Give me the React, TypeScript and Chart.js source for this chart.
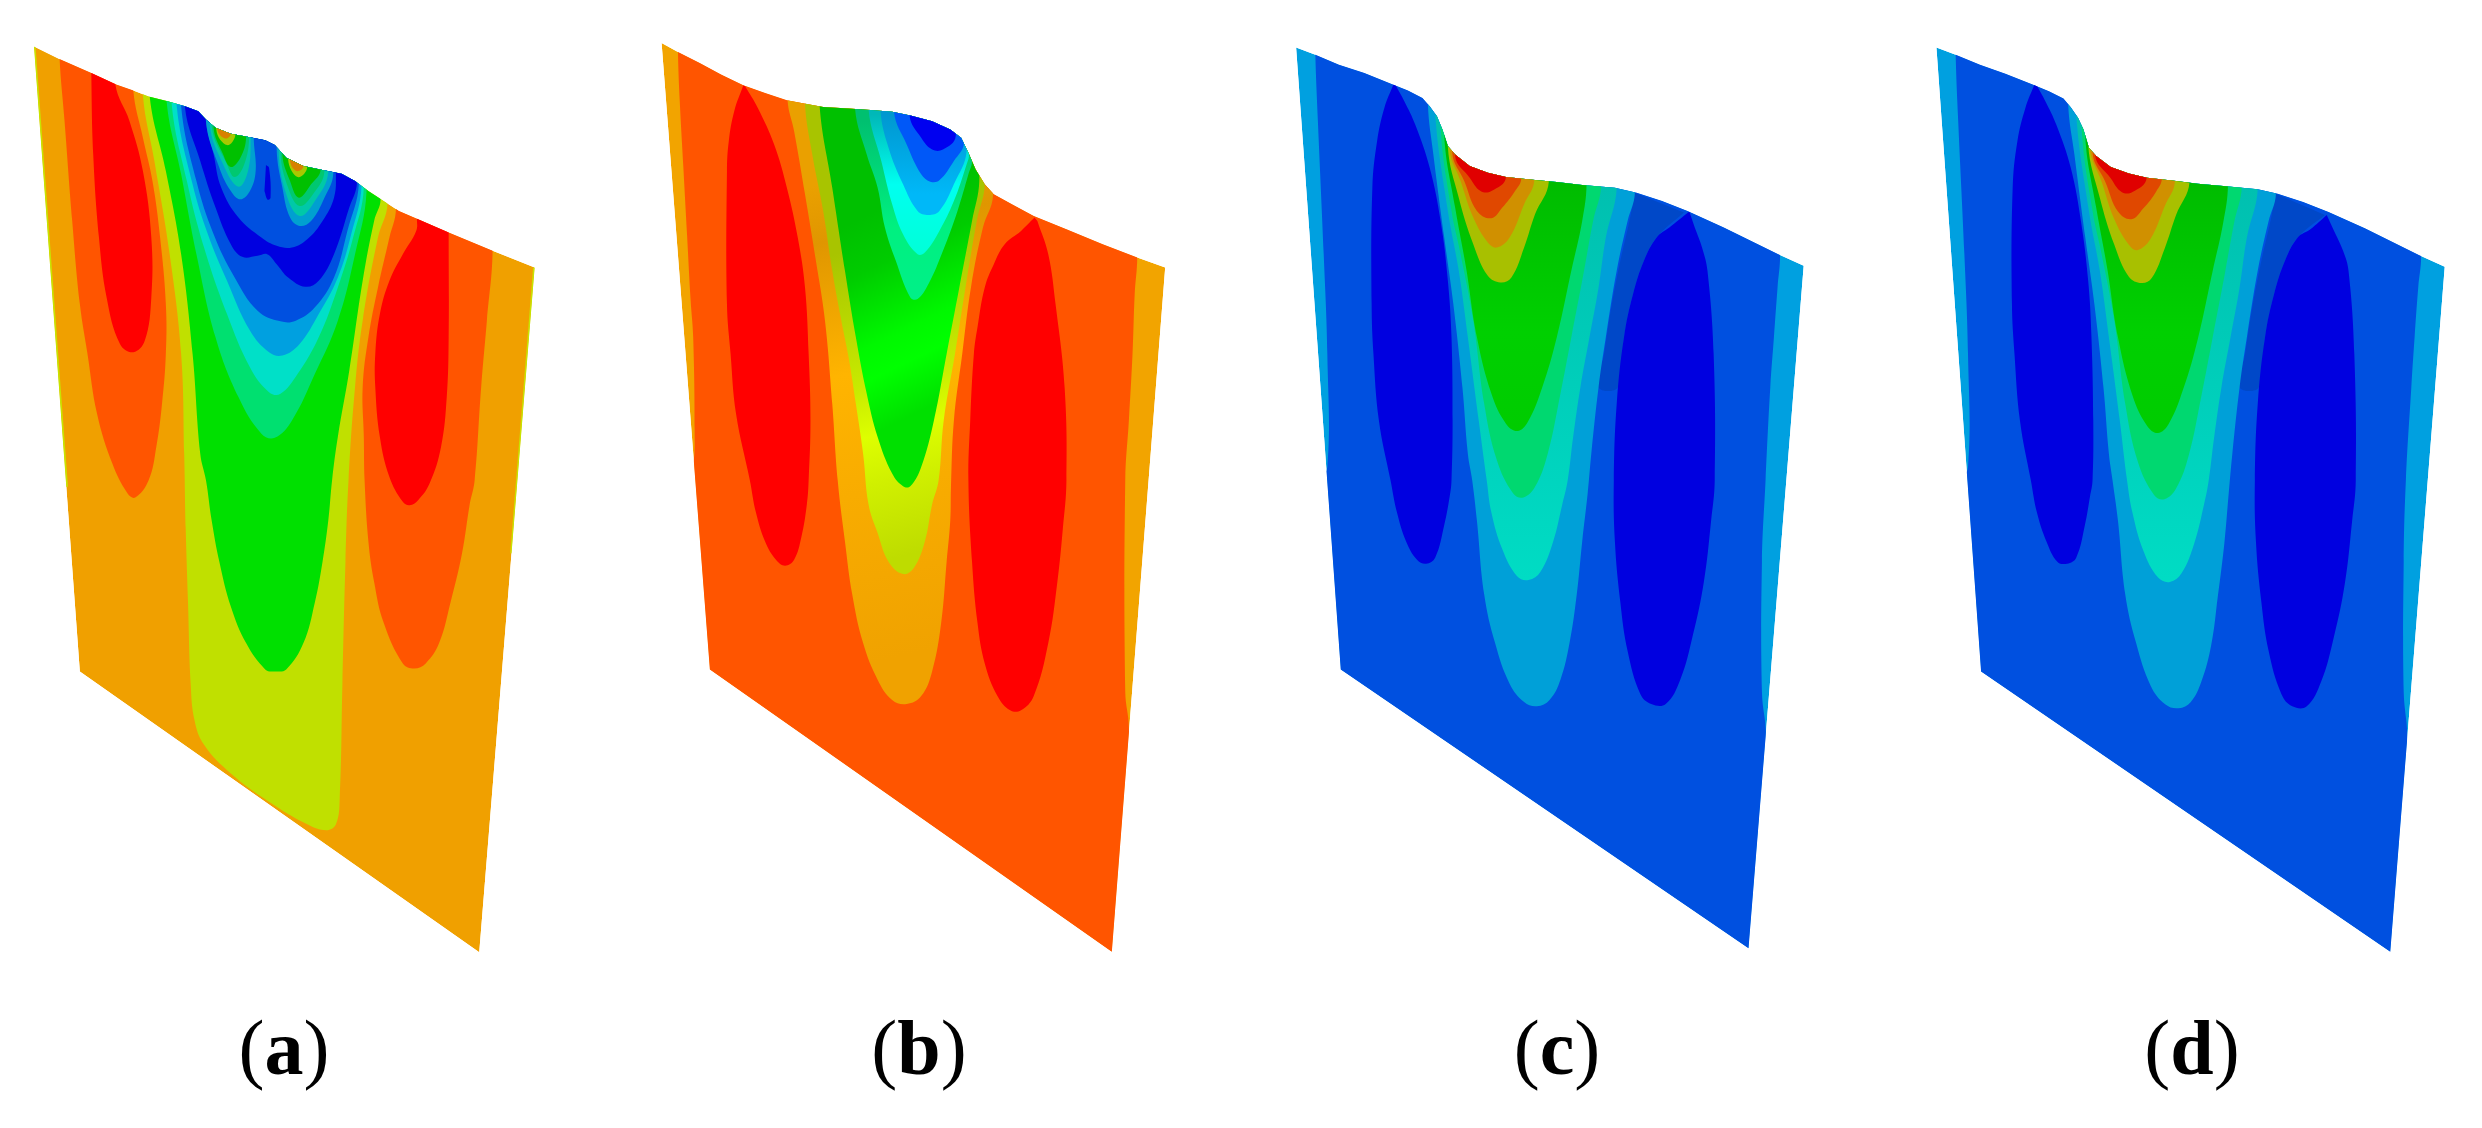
import React, { useEffect, useRef } from "react";
import { Chart, registerables } from "chart.js";

type P = number[][];
type Shade = { from: number[]; to: number[]; stops: [number, string][] };
type Row = [P, string, string?, Shade?];

const panelLabels = ["a", "b", "c", "d"];
const labelCentres = [284, 919, 1557, 2192];

// ---------- panel (a) ----------
const aOutline: P = [[85,75],[150,112],[235,155],[300,190],[345,208],[385,226],[435,240],[480,255],[515,270],[535,295],[560,320],[600,338],[650,348],[690,357],[715,372],[745,410],[790,435],[840,447],[890,458],[925,480],[960,510],[1000,540],[1040,570],[1090,595],[1170,635],[1285,690],[1395,740],[1250,2800],[205,1955]];
const aEdgeL: P = [[85,75],[170,1400]];
const aEdgeR: P = [[1395,740],[1335,1600]];
const aLobeL1: P = [[152,0],[152,112],[165,300],[185,600],[205,850],[225,1000],[250,1180],[290,1330],[330,1420],[350,1432],[385,1380],[405,1280],[420,1150],[430,1000],[430,850],[415,650],[395,480],[370,350],[345,208],[345,0]];
const aLobeL2: P = [[235,0],[235,155],[240,400],[255,650],[275,830],[310,970],[345,995],[375,960],[392,830],[392,650],[370,450],[335,300],[298,190],[298,0]];
const aLobeR1: P = [[1032,0],[1032,565],[1015,650],[985,800],[960,950],[945,1100],[948,1250],[950,1380],[960,1564],[975,1686],[1000,1809],[1050,1931],[1080,1946],[1110,1931],[1145,1870],[1175,1747],[1205,1600],[1225,1453],[1238,1380],[1255,1100],[1270,900],[1285,690],[1285,0]];
const aLobeR2: P = [[1087,0],[1087,595],[1085,630],[1050,700],[1015,780],[990,880],[978,1000],[978,1100],[990,1250],[1015,1370],[1050,1445],[1068,1455],[1090,1440],[1120,1390],[1150,1280],[1165,1130],[1170,950],[1170,635],[1170,0]];
const aLime: P = [[370,0],[370,222],[400,420],[440,700],[470,1000],[478,1300],[482,1527],[488,1747],[495,1992],[505,2102],[530,2176],[600,2262],[700,2347],[800,2415],[850,2433],[875,2415],[885,2335],[892,1992],[900,1625],[908,1380],[925,1100],[945,900],[985,650],[1010,548],[1010,0]];
const aGreen: P = [[388,0],[388,228],[430,450],[470,700],[500,1000],[520,1300],[535,1380],[550,1502],[570,1625],[600,1760],[640,1870],[690,1949],[715,1955],[745,1949],[790,1870],[820,1747],[840,1625],[855,1502],[865,1380],[880,1250],[910,1050],[945,780],[975,600],[992,535],[992,0]];
const aSea: P = [[432,0],[432,240],[470,460],[510,700],[560,950],[620,1130],[680,1240],[715,1252],[760,1200],[820,1060],[880,900],[925,700],[955,512],[955,0]];
const aCyan: P = [[445,0],[445,245],[485,480],[530,680],[590,880],[650,1040],[700,1115],[730,1120],[775,1060],[830,950],[880,800],[920,650],[948,500],[948,0]];
const aSky: P = [[458,0],[458,250],[500,490],[540,640],[590,780],[650,930],[700,995],[735,1005],[780,970],[830,880],[880,770],[915,640],[942,495],[942,0]];
const aBlue: P = [[470,0],[470,255],[510,480],[555,640],[610,770],[670,870],[730,902],[770,900],[820,860],[870,770],[905,630],[935,488],[935,0]];
const aDeep: P = [[480,0],[480,258],[520,420],[560,560],[600,670],[630,708],[670,705],[695,700],[720,730],[750,770],[795,798],[830,780],[870,700],[910,560],[930,485],[930,0]];
const aInner: P = [[535,0],[535,295],[555,400],[575,500],[620,590],[680,650],[720,675],[760,680],[800,655],[840,600],[870,530],[875,458],[875,0]];
const aSliver: P = [[692,432],[700,440],[704,530],[696,536],[688,510]];
const aPitL1: P = [[535,0],[535,300],[570,440],[600,510],[625,535],[650,510],[665,450],[660,350],[660,0]];
const aPitL2: P = [[545,0],[545,310],[580,430],[620,497],[645,450],[652,350],[652,0]];
const aPitL3: P = [[550,0],[550,315],[590,430],[610,468],[635,430],[648,348],[648,0]];
const aPitL4: P = [[555,0],[555,320],[580,400],[600,438],[625,410],[640,348],[640,0]];
const aPitL5: P = [[562,0],[562,325],[590,372],[612,340],[612,0]];
const aPitL6: P = [[565,0],[565,325],[585,352],[600,338],[600,0]];
const aPitR1: P = [[720,0],[720,385],[735,500],[755,590],[780,615],[810,600],[845,530],[868,458],[868,0]];
const aPitR2: P = [[725,0],[725,390],[745,520],[780,585],[820,540],[855,452],[855,0]];
const aPitR3: P = [[730,0],[730,395],[750,500],[780,555],[815,520],[845,450],[845,0]];
const aPitR4: P = [[735,0],[735,400],[755,480],[778,530],[810,490],[835,445],[835,0]];
const aPitR5: P = [[750,0],[750,415],[775,468],[800,438],[800,0]];
const aPitR6: P = [[755,0],[755,418],[772,450],[790,435],[790,0]];

// ---------- panel (b) ----------
const bOutline: P = [[85,65],[130,92],[190,125],[250,160],[310,192],[370,215],[430,237],[485,248],[530,257],[600,262],[660,266],[720,272],[770,283],[830,300],[880,325],[910,350],[930,395],[950,445],[975,490],[1000,520],[1050,550],[1110,585],[1200,625],[1300,670],[1395,710],[1472,740],[1325,2798],[218,1949]];
const bMain: P = [[130,0],[130,92],[135,240],[145,440],[155,640],[165,840],[172,950],[176,1230],[172,1330],[150,1400],[150,2000],[400,2900],[1372,2900],[1372,2125],[1362,2017],[1362,1380],[1372,1200],[1382,1000],[1388,820],[1395,710],[1395,0]];
const bLobeL: P = [[310,192],[285,270],[270,360],[265,450],[265,850],[275,1000],[290,1180],[328,1380],[345,1478],[370,1564],[400,1619],[425,1637],[450,1619],[470,1551],[485,1453],[490,1380],[495,1200],[490,1000],[480,800],[460,650],[430,500],[395,370],[350,260],[315,195]];
const bLobeR: P = [[1112,590],[1075,630],[1030,670],[1000,730],[975,800],[955,920],[945,1000],[935,1200],[930,1380],[940,1625],[955,1809],[975,1931],[1010,2029],[1045,2072],[1075,2072],[1110,2029],[1150,1870],[1175,1686],[1190,1527],[1200,1380],[1195,1100],[1170,850],[1150,700],[1120,600]];
const bAmber: P = [[432,0],[432,237],[450,330],[480,520],[510,720],[535,900],[555,1150],[570,1380],[590,1564],[610,1723],[640,1870],[680,1980],[720,2041],[760,2053],[800,2029],[830,1955],[855,1809],[870,1625],[880,1502],[882,1400],[890,1200],[913,1000],[937,800],[970,620],[998,522],[998,0]];
const bLime: P = [[480,0],[480,248],[500,400],[530,570],[555,750],[580,900],[600,1010],[620,1150],[640,1300],[655,1453],[680,1539],[710,1625],[750,1662],[780,1643],[810,1564],[830,1453],[848,1380],[862,1200],[893,1000],[922,800],[953,600],[975,490],[975,0]];
const bGreen: P = [[520,0],[520,252],[555,500],[590,750],[620,950],[650,1120],[680,1250],[720,1360],[750,1398],[770,1398],[800,1340],[835,1200],[870,1000],[905,800],[940,600],[960,480],[960,0]];
const bSea: P = [[618,0],[618,264],[650,400],[680,500],[700,620],[730,720],[770,830],[790,835],[820,790],[860,690],[900,570],[930,460],[940,420],[940,0]];
const bTeal: P = [[655,0],[655,265],[690,420],[720,550],[750,640],[790,700],[810,695],[850,630],[890,540],[925,430],[932,400],[932,0]];
const bSky: P = [[688,0],[688,268],[710,380],[750,490],[790,570],[820,582],[850,570],[890,490],[925,390],[925,0]];
const bBlue: P = [[725,0],[725,272],[760,370],[800,460],[825,482],[850,478],[890,420],[918,365],[918,0]];
const bDeep: P = [[768,0],[768,283],[800,350],[830,385],[860,385],[895,345],[895,0]];

const bAmberShade: Shade = { from: [480,500], to: [780,1900], stops: [[0,"#EAA000"],[0.12,"#E09600"],[0.4,"#FFB400"],[0.65,"#F8AC00"],[1,"#F0A200"]] };
const bLimeShade: Shade = { from: [560,700], to: [780,1600], stops: [[0,"#A8C400"],[0.45,"#C8EC00"],[0.6,"#DDFF00"],[0.75,"#D0F000"],[1,"#BEDC00"]] };
const bGreenShade: Shade = { from: [580,620], to: [820,1160], stops: [[0,"#00C000"],[0.25,"#00CC00"],[0.6,"#00F800"],[0.75,"#00FF00"],[1,"#00E000"]] };
const bSeaShade: Shade = { from: [700,300], to: [700,830], stops: [[0,"#00C070"],[0.6,"#00F080"],[1,"#00F088"]] };
const bTealShade: Shade = { from: [700,280], to: [700,700], stops: [[0,"#00B8B8"],[0.5,"#00FFF0"],[1,"#00FFD8"]] };
const bSkyShade: Shade = { from: [700,280], to: [700,520], stops: [[0,"#0098D0"],[1,"#00B8F8"]] };

// ---------- panel (c) ----------
const cOutline: P = [[72,78],[125,100],[190,130],[260,155],[335,188],[380,208],[420,230],[440,255],[460,285],[475,325],[490,375],[510,400],[550,435],[600,455],[650,468],[730,477],[790,483],[860,492],[950,500],[1010,515],[1080,540],[1150,570],[1250,620],[1400,700],[1470,735],[1318,2788],[195,1949]];
const cMain: P = [[125,0],[125,100],[132,300],[148,700],[158,1000],[158,1340],[130,1400],[130,2000],[400,2900],[1366,2900],[1366,2145],[1355,2017],[1355,1625],[1365,1380],[1378,1100],[1388,950],[1398,800],[1405,705],[1405,0]];
const cLobeL: P = [[340,190],[315,260],[295,360],[282,500],[280,850],[285,1000],[300,1200],[332,1380],[350,1478],[375,1564],[405,1619],[430,1631],[455,1613],[480,1515],[495,1429],[500,1380],[503,1200],[500,950],[490,780],[470,600],[440,440],[400,310],[370,240],[345,190]];
const cShadeBand: P = [[1005,515],[990,600],[965,720],[940,860],[920,1000],[905,1100],[958,1100],[975,950],[1000,820],[1030,720],[1065,650],[1140,575]];
const cLobeR: P = [[1155,572],[1100,620],[1065,650],[1030,720],[1000,820],[975,950],[955,1150],[947,1380],[950,1564],[965,1747],[985,1894],[1020,2023],[1050,2053],[1090,2053],[1130,1980],[1165,1845],[1195,1686],[1215,1502],[1225,1380],[1222,1000],[1205,750],[1190,680],[1170,620]];
const cSky: P = [[435,0],[435,250],[450,400],[480,650],[505,850],[530,1100],[545,1300],[557,1380],[570,1502],[590,1723],[620,1870],[660,1992],[700,2047],[735,2060],[770,2041],[800,1980],[825,1870],[845,1723],[860,1564],[875,1420],[885,1300],[905,1100],[925,950],[955,750],[985,600],[1005,515],[1005,0]];
const cTeal: P = [[455,0],[455,275],[490,570],[520,750],[545,950],[575,1200],[597,1380],[610,1478],[640,1588],[680,1668],[712,1680],[745,1655],[780,1564],[805,1453],[820,1380],[835,1250],[855,1100],[880,950],[905,800],[925,650],[955,500],[955,0]];
const cSea: P = [[470,0],[470,320],[500,570],[525,700],[560,900],[590,1150],[625,1320],[670,1420],[698,1432],[730,1400],[765,1300],[800,1120],[830,950],[865,750],[890,600],[912,495],[912,0]];
const cGreen: P = [[480,0],[480,345],[510,560],[540,740],[570,950],[610,1120],[650,1210],[682,1232],[710,1205],[750,1100],[790,950],[830,750],[860,600],[872,490],[872,0]];
const cOlive: P = [[490,0],[490,378],[520,530],[560,670],[600,765],[635,785],[665,770],[700,680],[730,580],[768,482],[768,0]];
const cOchre: P = [[495,0],[495,385],[525,480],[560,590],[600,665],[625,680],[660,650],[700,550],[728,477],[728,0]];
const cRust: P = [[502,0],[502,395],[535,480],[570,570],[610,592],[640,560],[675,510],[692,473],[692,0]];
const cRed: P = [[510,0],[510,405],[550,470],[580,510],[610,510],[650,468],[650,0]];

const cdGreenShade: Shade = { from: [700,490], to: [700,1230], stops: [[0,"#00BC00"],[0.6,"#00D000"],[1,"#00CC00"]] };
const cdTealShade: Shade = { from: [800,500], to: [800,1680], stops: [[0,"#00C0B0"],[1,"#00DCC4"]] };

// ---------- panel (d) ----------
const dOutline: P = [[75,78],[128,100],[195,130],[265,157],[340,190],[385,210],[425,232],[445,258],[465,290],[480,325],[495,380],[515,405],[555,438],[605,457],[655,470],[735,480],[795,488],[865,495],[960,505],[1015,518],[1085,543],[1155,573],[1255,622],[1405,703],[1475,738],[1325,2798],[198,1955]];
const dMain: P = [[128,0],[128,100],[135,300],[152,700],[162,1000],[162,1340],[135,1400],[135,2000],[400,2900],[1372,2900],[1372,2152],[1362,2017],[1362,1625],[1368,1380],[1383,1100],[1392,950],[1402,800],[1410,708],[1410,0]];
const dLobeL: P = [[345,190],[320,260],[298,360],[285,500],[283,850],[290,1000],[305,1200],[335,1380],[352,1478],[378,1564],[408,1625],[435,1631],[460,1613],[484,1515],[498,1429],[505,1380],[507,1200],[502,950],[493,780],[473,600],[445,440],[405,310],[375,240],[350,190]];
const dShadeBand: P = [[1010,518],[995,600],[970,720],[945,860],[925,1000],[910,1100],[963,1100],[980,950],[1005,820],[1035,720],[1070,650],[1145,582]];
const dLobeR: P = [[1150,582],[1105,625],[1070,650],[1035,720],[1005,820],[980,950],[960,1150],[952,1380],[955,1564],[970,1747],[990,1894],[1025,2023],[1055,2060],[1095,2060],[1135,1985],[1170,1850],[1200,1690],[1220,1502],[1230,1380],[1226,1000],[1210,750],[1195,690],[1168,625]];
const dSky: P = [[438,0],[438,252],[455,400],[485,650],[510,850],[535,1100],[550,1300],[560,1380],[575,1502],[595,1723],[625,1870],[665,1998],[705,2054],[742,2066],[775,2048],[805,1985],[832,1875],[850,1730],[868,1570],[880,1420],[890,1300],[910,1100],[930,950],[960,750],[990,600],[1010,518],[1010,0]];
const dTeal: P = [[460,0],[460,278],[495,570],[525,750],[550,950],[580,1200],[600,1380],[615,1478],[645,1592],[685,1672],[718,1686],[750,1660],[785,1570],[812,1453],[825,1380],[840,1250],[860,1100],[885,950],[910,800],[930,650],[960,503],[960,0]];
const dSea: P = [[475,0],[475,322],[505,570],[530,700],[565,900],[595,1150],[630,1325],[675,1425],[703,1437],[735,1405],[770,1305],[805,1125],[835,955],[870,755],[895,605],[916,497],[916,0]];
const dGreen: P = [[485,0],[485,348],[515,560],[545,740],[575,950],[615,1125],[655,1216],[685,1238],[715,1210],[755,1105],[795,955],[835,755],[865,605],[878,493],[878,0]];
const dOlive: P = [[493,0],[493,370],[525,530],[565,672],[605,768],[640,787],[668,772],[704,682],[735,582],[772,484],[772,0]];
const dOchre: P = [[498,0],[498,382],[530,482],[565,595],[605,672],[628,688],[664,655],[704,555],[732,480],[732,0]];
const dRust: P = [[505,0],[505,395],[540,482],[575,572],[612,595],[645,562],[680,512],[696,472],[696,0]];
const dRed: P = [[512,0],[512,402],[555,472],[585,513],[615,513],[654,470],[654,0]];

const panelA: Row[] = [
  [aOutline, "#F0A000", "flat"], [aEdgeL, "#C8E400", "edge"], [aEdgeR, "#C8E400", "edge"],
  [aLobeL1, "#FF5500"], [aLobeL2, "#FF0000"], [aLobeR1, "#FF5500"], [aLobeR2, "#FF0000"],
  [aLime, "#C0E000"], [aGreen, "#00E000"], [aSea, "#00E070"], [aCyan, "#00E0C8"], [aSky, "#00A0E0"],
  [aBlue, "#0050E0"], [aDeep, "#0000E0"], [aInner, "#0050E0"], [aSliver, "#0000E0"],
  [aPitL1, "#00A0D0"], [aPitL2, "#00C8A8"], [aPitL3, "#00C870"], [aPitL4, "#00C000"], [aPitL5, "#A8C800"], [aPitL6, "#D88000"],
  [aPitR1, "#00A0D0"], [aPitR2, "#00C8A8"], [aPitR3, "#00C870"], [aPitR4, "#00C000"], [aPitR5, "#A8C800"], [aPitR6, "#D88000"],
];
const panelB: Row[] = [
  [bOutline, "#F2A400", "flat"], [bMain, "#FF5500"], [bLobeL, "#FF0000"], [bLobeR, "#FF0000"],
  [bAmber, "#F4A800", undefined, bAmberShade], [bLime, "#C6E400", undefined, bLimeShade],
  [bGreen, "#00E400", undefined, bGreenShade], [bSea, "#00E880", undefined, bSeaShade],
  [bTeal, "#00F0D8", undefined, bTealShade], [bSky, "#00B0F0", undefined, bSkyShade], [bBlue, "#0058F8"], [bDeep, "#0000F0"],
];
const panelC: Row[] = [
  [cOutline, "#00A0E0", "flat"], [cMain, "#0050E0"], [cLobeL, "#0000E0"], [cShadeBand, "#0048C8"], [cLobeR, "#0000E0"],
  [cSky, "#00A0D8"], [cTeal, "#00D8C0", undefined, cdTealShade], [cSea, "#00D870"], [cGreen, "#00CC00", undefined, cdGreenShade],
  [cOlive, "#A8C000"], [cOchre, "#D09000"], [cRust, "#E04800"], [cRed, "#E00000"],
];
const panelD: Row[] = [
  [dOutline, "#00A0E0", "flat"], [dMain, "#0050E0"], [dLobeL, "#0000E0"], [dShadeBand, "#0048C8"], [dLobeR, "#0000E0"],
  [dSky, "#00A0D8"], [dTeal, "#00D8C0", undefined, cdTealShade], [dSea, "#00D870"], [dGreen, "#00CC00", undefined, cdGreenShade],
  [dOlive, "#A8C000"], [dOchre, "#D09000"], [dRust, "#E04800"], [dRed, "#E00000"],
];

const WIDTH = 2482;
const HEIGHT = 1128;
const xUnitA = 1568 / 600;
const xUnitB = 1568 / 570;
const panels: { id: string; rows: Row[]; outline: P; from: number; unit: number }[] = [
  { id: "xa", rows: panelA, outline: aOutline, from: 0, unit: xUnitA },
  { id: "xb", rows: panelB, outline: bOutline, from: 630, unit: xUnitB },
  { id: "xc", rows: panelC, outline: cOutline, from: 1270, unit: xUnitB },
  { id: "xd", rows: panelD, outline: dOutline, from: 1910, unit: xUnitB },
];

const outlineClip = {
  id: "outlineClip",
  beforeDatasetDraw(chart: any, args: any) {
    const ds = chart.data.datasets[args.index];
    const xs = chart.scales[ds.xAxisID];
    const ys = chart.scales[ds.yAxisID];
    const ctx = chart.ctx;
    ctx.save();
    ctx.beginPath();
    ds.outline.forEach(([x, y]: number[], i: number) => {
      const px = xs.getPixelForValue(x);
      const py = ys.getPixelForValue(y);
      if (i === 0) ctx.moveTo(px, py);
      else ctx.lineTo(px, py);
    });
    ctx.closePath();
    ctx.clip();
  },
  afterDatasetDraw(chart: any) {
    chart.ctx.restore();
  },
};

Chart.register(outlineClip);
Chart.register(...registerables);

function shadeFill(id: string, shade: Shade, fallback: string) {
  return (c: any) => {
    const xs = c.chart.scales[id];
    const ys = c.chart.scales.y;
    if (!xs || !ys) return fallback;
    const ends = [
      xs.getPixelForValue(shade.from[0]),
      ys.getPixelForValue(shade.from[1]),
      xs.getPixelForValue(shade.to[0]),
      ys.getPixelForValue(shade.to[1]),
    ];
    if (!ends.every(Number.isFinite)) return fallback;
    const g = c.chart.ctx.createLinearGradient(ends[0], ends[1], ends[2], ends[3]);
    shade.stops.forEach(([t, col]) => g.addColorStop(t, col));
    return g;
  };
}

export default function App() {
  const ref = useRef<HTMLCanvasElement>(null);
  useEffect(() => {
    const rows = panels.flatMap((p) =>
      p.rows.map(([pts, color, kind, shade]) => ({ pts, color, kind, shade, id: p.id, outline: p.outline }))
    );
    const datasets = rows.map((r, i) => ({
      data: r.pts.map(([x, y]) => ({ x, y })),
      showLine: true,
      xAxisID: r.id,
      yAxisID: "y",
      outline: r.outline,
      order: rows.length - i,
      pointRadius: 0,
      tension: r.kind ? 0 : 0.4,
      backgroundColor: r.shade ? shadeFill(r.id, r.shade, r.color) : r.color,
      borderColor: r.color,
      borderWidth: r.kind === "edge" ? 3 : 0,
      fill: r.kind === "edge" ? false : "shape",
      clip: false,
    }));
    const scales: any = {
      y: { type: "linear", display: false, reverse: true, min: -60, max: (HEIGHT - 20) * 3 },
    };
    panels.forEach((p) => {
      scales[p.id] = {
        type: "linear",
        axis: "x",
        position: "bottom",
        display: false,
        min: -p.from * p.unit,
        max: (WIDTH - p.from) * p.unit,
      };
    });
    const chart = new Chart(ref.current!, {
      type: "scatter",
      data: { datasets } as any,
      options: {
        animation: false,
        responsive: false,
        events: [],
        layout: { padding: 0 },
        scales,
        plugins: { legend: { display: false }, tooltip: { enabled: false } },
      } as any,
    });
    chart.update();
    return () => chart.destroy();
  }, []);
  return (
    <div style={{ position: "fixed", left: 0, top: 0, width: WIDTH, height: HEIGHT, background: "#fff", overflow: "hidden" }}>
      <canvas ref={ref} width={WIDTH} height={HEIGHT} style={{ display: "block" }} />
      {panelLabels.map((t, i) => (
        <div
          key={t}
          style={{
            position: "absolute",
            left: labelCentres[i] - 100,
            width: 200,
            top: 1009,
            textAlign: "center",
            fontFamily: "'Liberation Serif', serif",
            fontSize: 78,
            lineHeight: 1,
            color: "#000",
          }}
        >
          (<b>{t}</b>)
        </div>
      ))}
    </div>
  );
}
